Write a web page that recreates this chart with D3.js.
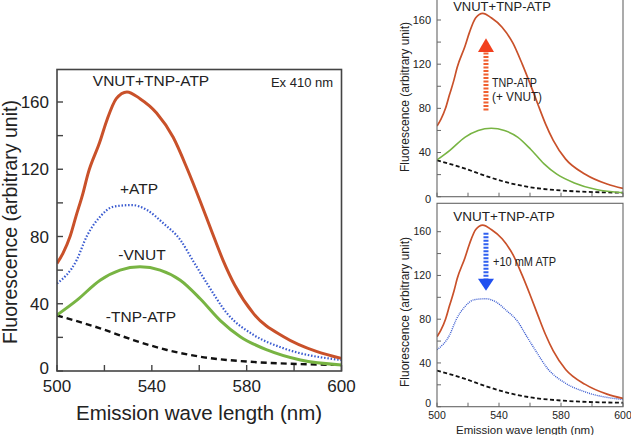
<!DOCTYPE html>
<html><head><meta charset="utf-8">
<script src="https://cdn.jsdelivr.net/npm/d3@7/dist/d3.min.js"></script>
<style>body{margin:0;background:#fff}svg{display:block}text{font-family:"Liberation Sans",Arial,sans-serif;fill:#222}</style>
</head><body>
<svg id="c" width="631" height="435"></svg>
<script>
// ---- data (wavelength in nm, fluorescence in arbitrary units) ----
const redW   = [500,502.5,505.5,508,511,513,518,521,525,529.5,535,542,549,555,560.4,565,570,575,583,595.6,609.7,620];
const redV   = [64,70,80,92,106,117,136,149,162,166,162,153.5,139,120,101,84,66,51,34,20.4,11.5,7.5];
const blueW  = [500,508.3,512.5,518.2,523.7,531.6,537.9,544.9,552,557.6,563.3,571.7,583,595.6,620];
const blueV  = [52,66,80,91.8,97.7,98.7,95.8,87.8,78,65,52,34.3,21.4,13.5,6.5];
const greenW = [500,508.3,518.2,526.6,535,543.5,552,560.4,568.9,577.3,588.6,602.7,620];
const greenV = [33.3,42,54,60,62,60,54,43,30,20.4,12.5,6.5,3.6];
const blackW = [500,518.2,532.2,546.4,560.4,581.5,620];
const blackV = [33,25.4,18.4,12.5,8.5,5.5,3.6];
const xTickVals   = [500,540,580,620];
const xTickLabels = ["500","540","580","600"];
const yTickVals   = [0,40,80,120,160];
const minorStep = 20;

const svg = d3.select("#c");
const zip = (w,v)=>w.map((d,i)=>[d,v[i]]);
const series = {
  red:   {pts: zip(redW,redV),   color:"#c9512a"},
  blue:  {pts: zip(blueW,blueV), color:"#3a5bd0"},
  green: {pts: zip(greenW,greenV), color:"#78b443"},
  black: {pts: zip(blackW,blackV), color:"#111"}
};

function panel(o){
  const x = d3.scaleLinear().domain([500,620]).range([o.x0,o.x1]);
  const y = d3.scaleLinear().domain([0,160]).range([o.y0,o.y160]);
  const g = svg.append("g");
  const line = d3.line().x(d=>x(d[0])).y(d=>y(d[1])).curve(d3.curveMonotoneX);
  const clipId = "clip"+o.id;
  svg.append("clipPath").attr("id",clipId).append("rect")
    .attr("x",o.x0).attr("y",o.top).attr("width",o.x1-o.x0).attr("height",o.y0-o.top);
  const lg = g.append("g").attr("clip-path",`url(#${clipId})`);
  o.lines.forEach(l=>{
    const s = series[l.key];
    lg.append("path").attr("d",line(s.pts)).attr("fill","none")
      .attr("stroke",s.color).attr("stroke-width",l.w)
      .attr("stroke-dasharray",l.dash||null).attr("stroke-linecap",l.cap||"butt");
  });
  // ticks (inside)
  const yt = d3.range(0,161,minorStep);
  const xt = d3.range(500,621,minorStep);
  g.selectAll(null).data(yt).enter().append("line")
    .attr("x1",o.x0).attr("x2",o.x0+o.tl).attr("y1",d=>y(d)).attr("y2",d=>y(d))
    .attr("stroke",o.fc).attr("stroke-width",o.tw);
  g.selectAll(null).data(xt).enter().append("line")
    .attr("y1",o.y0).attr("y2",o.y0-o.tl).attr("x1",d=>x(d)).attr("x2",d=>x(d))
    .attr("stroke",o.fc).attr("stroke-width",o.tw);
  // frame
  g.append("rect").attr("x",o.x0).attr("y",o.top).attr("width",o.x1-o.x0).attr("height",o.y0-o.top)
    .attr("fill","none").attr("stroke",o.fc).attr("stroke-width",o.fw);
  // tick labels
  g.selectAll(null).data(yTickVals).enter().append("text")
    .attr("x",o.x0-o.ylx).attr("y",d=>y(d)+(d===0?o.zeroDy:0)).attr("dy","0.36em").attr("text-anchor","end")
    .attr("font-size",o.fs).text(d=>d);
  if(o.xlabels){
    g.selectAll(null).data(xTickVals).enter().append("text")
      .attr("x",d=>x(d)).attr("y",o.xly).attr("text-anchor","middle")
      .attr("font-size",o.fs).text((d,i)=>xTickLabels[i]);
  }
  return {x,y};
}

// main panel
const M = panel({id:"m",x0:57,x1:341.5,y0:371,y160:102,top:69.5,fc:"#444",fw:1.6,tw:1.4,tl:6,
  fs:17,ylx:8,zeroDy:-3,xlabels:true,xly:392,
  lines:[{key:"black",w:2.4,dash:"6,4"},{key:"green",w:3},{key:"blue",w:2.2,dash:"1.5,1.8"},{key:"red",w:3}]});
svg.append("text").attr("x",151).attr("y",86).attr("text-anchor","middle").attr("font-size",15.5).text("VNUT+TNP-ATP");
svg.append("text").attr("x",302).attr("y",86.5).attr("text-anchor","middle").attr("font-size",13).text("Ex 410 nm");
svg.append("text").attr("x",139).attr("y",194).attr("text-anchor","middle").attr("font-size",15.5).text("+ATP");
svg.append("text").attr("x",142).attr("y",260).attr("text-anchor","middle").attr("font-size",15.5).text("-VNUT");
svg.append("text").attr("x",141).attr("y",322).attr("text-anchor","middle").attr("font-size",15.5).text("-TNP-ATP");
svg.append("text").attr("x",199).attr("y",420).attr("text-anchor","middle").attr("font-size",20.5).text("Emission wave length (nm)");
svg.append("text").attr("transform","translate(17,222) rotate(-90)").attr("text-anchor","middle").attr("font-size",19.5).text("Fluorescence (arbitrary unit)");

// right top panel
const T = panel({id:"t",x0:437,x1:623,y0:196.7,y160:20,top:-3,fc:"#666",fw:1.1,tw:1,tl:4,
  fs:11,ylx:6,zeroDy:2,xlabels:false,
  lines:[{key:"black",w:1.8,dash:"4,2.5"},{key:"green",w:1.6},{key:"red",w:1.7}]});
svg.append("text").attr("x",502).attr("y",11).attr("text-anchor","middle").attr("font-size",13).text("VNUT+TNP-ATP");
svg.append("text").attr("transform","translate(409,97) rotate(-90)").attr("text-anchor","middle").attr("font-size",12).text("Fluorescence (arbitrary unit)");
// arrow up
const arrUpX = 531.6, arrUpFrom = 78, arrUpBase = 131, arrUpTip = 143.5;
svg.append("line").attr("x1",T.x(arrUpX)).attr("x2",T.x(arrUpX)).attr("y1",T.y(arrUpFrom)).attr("y2",T.y(arrUpBase))
  .attr("stroke","#f06030").attr("stroke-width",5).attr("stroke-dasharray","2,1.5");
svg.append("path").attr("d",`M${T.x(arrUpX)-8},${T.y(arrUpBase)}L${T.x(arrUpX)+8},${T.y(arrUpBase)}L${T.x(arrUpX)},${T.y(arrUpTip)}Z`).attr("fill","#f2401e");
svg.append("text").attr("x",492).attr("y",87).attr("font-family","Liberation Mono,monospace").attr("font-size",12.5)
  .attr("textLength",45).attr("lengthAdjust","spacingAndGlyphs").text("TNP-ATP");
svg.append("text").attr("x",492).attr("y",101).attr("font-family","Liberation Mono,monospace").attr("font-size",12.5)
  .attr("textLength",50).attr("lengthAdjust","spacingAndGlyphs").text("(+ VNUT)");

// right bottom panel
const B = panel({id:"b",x0:437,x1:623,y0:406.7,y160:231.7,top:203.3,fc:"#666",fw:1.1,tw:1,tl:4,
  fs:10.5,ylx:6,zeroDy:-3,xlabels:true,xly:419,
  lines:[{key:"black",w:1.8,dash:"4,2.5"},{key:"blue",w:1.4,dash:"1,1"},{key:"red",w:1.7}]});
svg.append("text").attr("x",504).attr("y",221).attr("text-anchor","middle").attr("font-size",13.5).text("VNUT+TNP-ATP");
svg.append("text").attr("transform","translate(409,312) rotate(-90)").attr("text-anchor","middle").attr("font-size",12).text("Fluorescence (arbitrary unit)");
svg.append("text").attr("x",525).attr("y",433.5).attr("text-anchor","middle").attr("font-size",11.5).text("Emission wave length (nm)");
const arrDnX = 531.6, arrDnFrom = 159, arrDnBase = 117, arrDnTip = 106;
svg.append("line").attr("x1",B.x(arrDnX)).attr("x2",B.x(arrDnX)).attr("y1",B.y(arrDnFrom)).attr("y2",B.y(arrDnBase))
  .attr("stroke","#3060f0").attr("stroke-width",5).attr("stroke-dasharray","2,1.5");
svg.append("path").attr("d",`M${B.x(arrDnX)-8},${B.y(arrDnBase)}L${B.x(arrDnX)+8},${B.y(arrDnBase)}L${B.x(arrDnX)},${B.y(arrDnTip)}Z`).attr("fill","#2050f0");
svg.append("text").attr("x",493).attr("y",266).attr("font-family","Liberation Mono,monospace").attr("font-size",12.5)
  .attr("textLength",63).attr("lengthAdjust","spacingAndGlyphs").text("+10 mM ATP");
</script>
</body></html>
